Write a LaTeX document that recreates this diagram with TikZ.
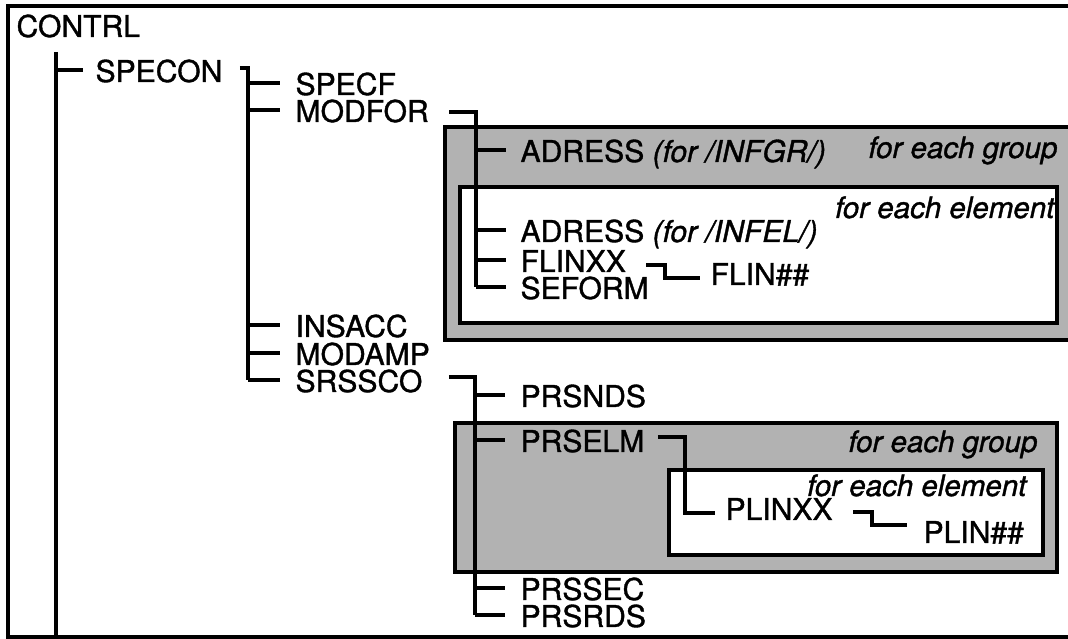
\documentclass[tikz,border=0pt]{standalone}
\usepackage{fontspec}
\setmainfont{TeX Gyre Heros}[UprightFeatures={FakeBold=1.2}, ItalicFeatures={FakeBold=1.2}]
\usetikzlibrary{calc}

\begin{document}
\begin{tikzpicture}[
    x=0.0125cm, y=-0.0125cm,
    font=\fontsize{10.7}{12}\selectfont,
    item/.style={anchor=base west, inner sep=0pt},
    loopnote/.style={anchor=base east, inner sep=0pt, font=\fontsize{10.5}{12}\selectfont\itshape},
    link/.style={line width=1.1pt},
    groupbox/.style={draw, line width=1.6pt, fill=black!30},
    elembox/.style={draw, line width=1.4pt, fill=white},
]
    \useasboundingbox (0,0) rectangle (1068,639);

    % frame
    \coordinate (frame-bot) at (0,637);
    \draw[line width=1.2pt] (1080,6) -- (8,6) -- (8,637) -- (1080,637);

    % loop boxes
    \draw[groupbox] (445,127) rectangle (1085,340);
    \draw[elembox] (460,187) rectangle (1057,323);
    \draw[groupbox] (455,423) rectangle (1057,572);
    \draw[elembox] (669,470) rectangle (1043,555);

    % routine names
    \node[item] (contrl) at (16,37) {CONTRL};
    \node[item] (specon) at (95,82) {SPECON};
    \node[item] (specf)  at (295,95) {SPECF};
    \node[item] (modfor) at (295,122) {MODFOR};
    \node[item] (adrgr)  at (520,162) {ADRESS \textit{(for /INFGR/)}};
    \node[item] (adrel)  at (520,242) {ADRESS \textit{(for /INFEL/)}};
    \node[item] (flinxx) at (520,272) {FLINXX};
    \node[item] (seform) at (520,299) {SEFORM};
    \node[item] (flinnn) at (710,285) {FLIN\#\#};
    \node[item] (insacc) at (295,337) {INSACC};
    \node[item] (modamp) at (295,365) {MODAMP};
    \node[item] (srssco) at (295,392) {SRSSCO};
    \node[item] (prsnds) at (520,407) {PRSNDS};
    \node[item] (prselm) at (520,452) {PRSELM};
    \node[item] (plinxx) at (725,520) {PLINXX};
    \node[item] (plinnn) at (923,543) {PLIN\#\#};
    \node[item] (prssec) at (520,600) {PRSSEC};
    \node[item] (prsrds) at (520,627) {PRSRDS};

    % loop notes
    \node[loopnote] (grp1) at (1058,158) {for each group};
    \node[loopnote] (elm1) at (1055,218) {for each element};
    \node[loopnote] (grp2) at (1038,452) {for each group};
    \node[loopnote] (elm2) at (1027,496) {for each element};

    % call tree
    \coordinate (main-bus) at (56,52);
    \coordinate (specon-bus) at (248,0);
    \coordinate (modfor-bus) at (476,0);
    \coordinate (srssco-bus) at (475,0);
    \coordinate (flinxx-bus) at (665,0);
    \coordinate (prselm-bus) at (685,0);
    \coordinate (plinxx-bus) at (872,0);

    \draw[link] (main-bus) -- (main-bus |- frame-bot);
    \draw[link] ($(main-bus |- specon.base)+(0,-12)$) -- ($(specon.base west)+(-12,-12)$);

    \draw[link] ($(specon.base east)+(17,-14)$) -| ($(specon-bus |- srssco.base)+(0,-12)$);
    \foreach \n in {specf,modfor,insacc,modamp,srssco}
        \draw[link] ($(specon-bus |- \n.base)+(0,-12)$) -- ($(\n.base west)+(-15,-12)$);

    \draw[link] ($(modfor.base east)+(20,-10)$) -| ($(modfor-bus |- seform.base)+(0,-12)$);
    \foreach \n in {adrgr,adrel,flinxx,seform}
        \draw[link] ($(modfor-bus |- \n.base)+(0,-12)$) -- ($(\n.base west)+(-14,-12)$);
    \draw[link] ($(flinxx.base east)+(20,-7)$) -| ($(flinxx-bus |- flinnn.base)+(0,-7)$)
        -- ($(flinnn.base west)+(-10,-7)$);

    \draw[link] ($(srssco.base east)+(26,-15)$) -| ($(srssco-bus |- prsrds.base)+(0,-12)$);
    \foreach \n in {prsnds,prselm,prssec,prsrds}
        \draw[link] ($(srssco-bus |- \n.base)+(0,-12)$) -- ($(\n.base west)+(-15,-12)$);
    \draw[link] ($(prselm.base east)+(13,-15)$) -| ($(prselm-bus |- plinxx.base)+(0,-7)$)
        -- ($(plinxx.base west)+(-10,-7)$);
    \draw[link] ($(plinxx.base east)+(20,-8)$) -| ($(plinxx-bus |- plinnn.base)+(0,-18)$)
        -- ($(plinnn.base west)+(-16,-18)$);
\end{tikzpicture}
\end{document}
